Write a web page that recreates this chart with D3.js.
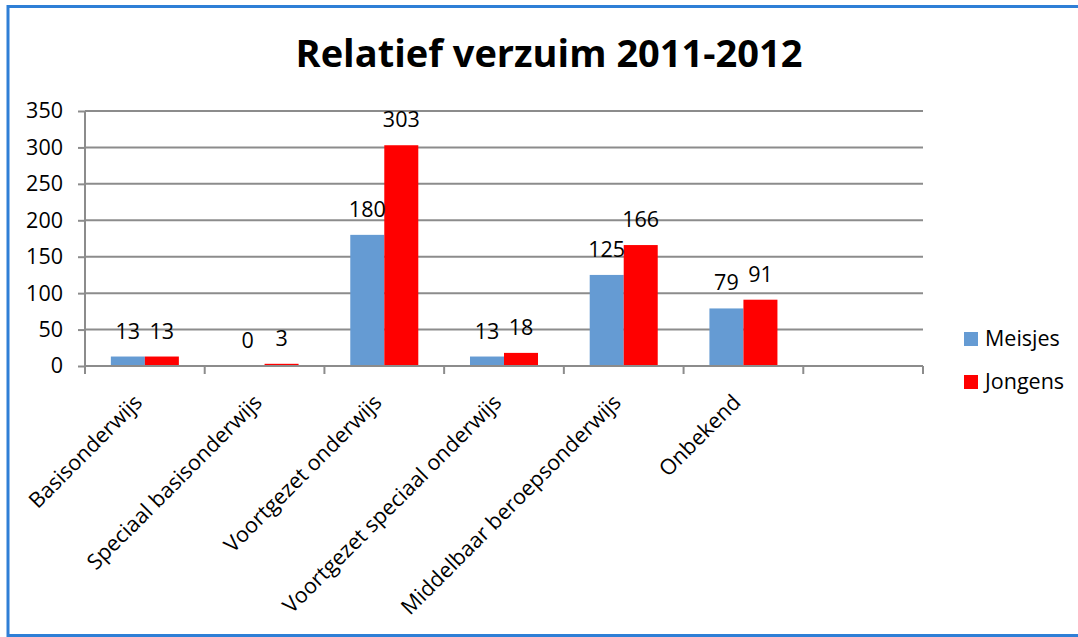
<!DOCTYPE html>
<html>
<head>
<meta charset="utf-8">
<script src="https://cdn.jsdelivr.net/npm/d3@7"></script>
<style>
  body { margin: 0; background: #fff; }
  svg text { font-family: 'Open Sans', sans-serif; fill: #000; }
</style>
</head>
<body>
<svg id="chart" width="1078" height="637"></svg>
<script>
(function() {
  'use strict';

  // data
  var categories = ['Basisonderwijs', 'Speciaal basisonderwijs', 'Voortgezet onderwijs',
    'Voortgezet speciaal onderwijs', 'Middelbaar beroepsonderwijs', 'Onbekend', ''];
  var meisjes = [13, 0, 180, 13, 125, 79, null];
  var jongens = [13, 3, 303, 18, 166, 91, null];
  var seriesNames = ['Meisjes', 'Jongens'];
  var seriesColors = ['#659bd3', '#ff0000'];
  var yTicks = [0, 50, 100, 150, 200, 250, 300, 350];
  var title = 'Relatief verzuim 2011-2012';

  var gridColor = '#8c8c8c';
  var fs = 21.5;
  var svg = d3.select('#chart');

  // outer frame
  svg.append('rect')
    .attr('x', 8).attr('y', 6.5)
    .attr('width', 1090).attr('height', 629)
    .attr('fill', 'none')
    .attr('stroke', '#2f7fd6')
    .attr('stroke-width', 3);

  var x = d3.scaleBand().domain(categories).range([85, 923]).paddingInner(0).paddingOuter(0);
  var xs = d3.scaleBand().domain(seriesNames).range([0, x.bandwidth()]).paddingInner(0).paddingOuter(0.76);
  var y = d3.scaleLinear().domain([0, 350]).range([366, 111]);

  // title
  var t = svg.append('text')
    .attr('x', 549).attr('y', 67)
    .attr('text-anchor', 'middle')
    .attr('font-weight', 'bold')
    .attr('font-size', 38)
    .text(title);
  var tw = t.node().getComputedTextLength();
  t.attr('font-size', 38 * 507 / tw);

  // gridlines + y axis
  var yAxis = d3.axisLeft(y).tickValues(yTicks).tickSize(7).tickPadding(15).tickFormat(d3.format('d'));
  var gy = svg.append('g').attr('transform', 'translate(85,0)').call(yAxis);
  gy.select('.domain').remove();
  gy.selectAll('.tick line').attr('stroke', gridColor).attr('stroke-width', 2);
  gy.selectAll('.tick text').attr('font-size', fs).attr('font-family', "'Open Sans', sans-serif").attr('fill', '#000');

  svg.append('g').selectAll('line').data(yTicks.slice(1)).enter().append('line')
    .attr('x1', 85).attr('x2', 923)
    .attr('y1', function(d) { return y(d); })
    .attr('y2', function(d) { return y(d); })
    .attr('stroke', gridColor).attr('stroke-width', 2);

  svg.append('line')
    .attr('x1', 85).attr('x2', 85).attr('y1', y(350)).attr('y2', y(0))
    .attr('stroke', gridColor).attr('stroke-width', 2);

  // bars
  var rows = categories.map(function(c, i) { return { cat: c, vals: [meisjes[i], jongens[i]] }; });
  var groups = svg.append('g').selectAll('g').data(rows).enter().append('g')
    .attr('transform', function(d) { return 'translate(' + x(d.cat) + ',0)'; });

  var cells = function(d) {
    return seriesNames.map(function(s, k) { return { name: s, k: k, v: d.vals[k] }; })
      .filter(function(e) { return e.v !== null; });
  };

  groups.selectAll('rect').data(cells).enter().append('rect')
    .attr('x', function(d) { return xs(d.name); })
    .attr('y', function(d) { return y(d.v); })
    .attr('width', xs.bandwidth())
    .attr('height', function(d) { return y(0) - y(d.v); })
    .attr('fill', function(d) { return seriesColors[d.k]; });

  groups.selectAll('text').data(cells).enter().append('text')
    .attr('x', function(d) { return xs(d.name) + xs.bandwidth() / 2; })
    .attr('y', function(d) { return y(d.v) - 18; })
    .attr('text-anchor', 'middle')
    .attr('font-size', fs)
    .text(function(d) { return d.v; });

  // x axis
  var xAxis = d3.axisBottom(x).tickSize(0).tickFormat('');
  var gx = svg.append('g').attr('transform', 'translate(0,' + y(0) + ')').call(xAxis);
  gx.select('.domain').attr('stroke', gridColor).attr('stroke-width', 2).attr('d', 'M85,0H923');

  var edges = categories.map(function(c) { return x(c); }).concat([923]);
  gx.selectAll('.edge').data(edges).enter().append('line')
    .attr('x1', function(d) { return d; }).attr('x2', function(d) { return d; })
    .attr('y1', 0).attr('y2', 8)
    .attr('stroke', gridColor).attr('stroke-width', 2);

  svg.append('g').selectAll('text').data(categories.filter(function(c) { return c; })).enter().append('text')
    .attr('transform', function(c) {
      return 'translate(' + (x(c) + x.bandwidth() / 2 - 12) + ',393) rotate(-45)';
    })
    .attr('text-anchor', 'end')
    .attr('dy', '0.7em')
    .attr('font-size', fs)
    .text(function(c) { return c; });

  // legend
  var legend = svg.append('g').selectAll('g').data(seriesNames).enter().append('g')
    .attr('transform', function(d, i) { return 'translate(964,' + (332 + i * 43) + ')'; });
  legend.append('rect').attr('width', 14).attr('height', 14)
    .attr('fill', function(d, i) { return seriesColors[i]; });
  legend.append('text').attr('x', 21).attr('y', 14).attr('font-size', fs)
    .text(function(d) { return d; });

})();
</script>
</body>
</html>
